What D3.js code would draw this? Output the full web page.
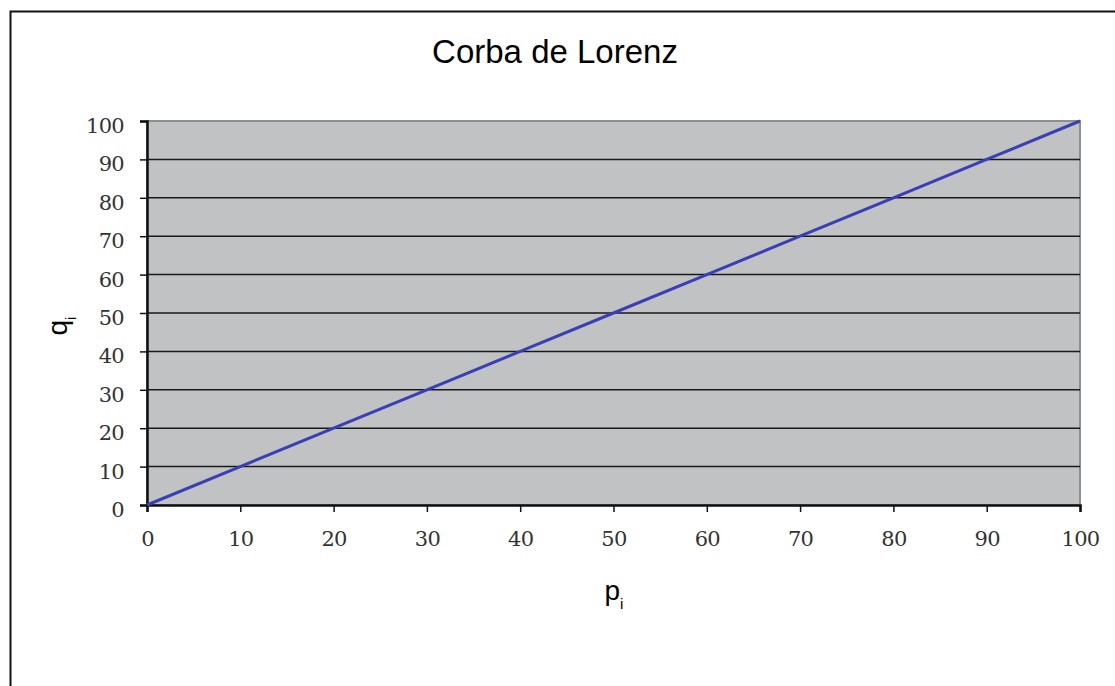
<!DOCTYPE html>
<html>
<head>
<meta charset="utf-8">
<style>
  body { margin: 0; background: #fff; }
  .tick text { font-family: "DejaVu Serif", serif; font-size: 21px; fill: #333; letter-spacing: -0.7px; }
  .title { font-family: "Liberation Sans", Arial, sans-serif; font-size: 33px; fill: #000; }
  .axlabel { font-family: "Liberation Sans", Arial, sans-serif; font-size: 28px; fill: #000; }
</style>
<script src="https://d3js.org/d3.v7.min.js"></script>
</head>
<body>
<svg width="1115" height="686"></svg>
<script>
// data
var pValues = [0, 10, 20, 30, 40, 50, 60, 70, 80, 90, 100];
var qValues = [0, 10, 20, 30, 40, 50, 60, 70, 80, 90, 100];
var xTicks = [0, 10, 20, 30, 40, 50, 60, 70, 80, 90, 100];
var yTicks = [0, 10, 20, 30, 40, 50, 60, 70, 80, 90, 100];

var svg = d3.select("svg");

// outer frame (only top and left visible)
svg.append("path")
  .attr("d", "M10.5,686 V11.5 H1115")
  .attr("fill", "none")
  .attr("stroke", "#111")
  .attr("stroke-width", 2);

var x = d3.scaleLinear().domain([0, 100]).range([147, 1080]);
var y = d3.scaleLinear().domain([0, 100]).range([505, 121]);

// plot background
svg.append("rect")
  .attr("x", x(0)).attr("y", y(100))
  .attr("width", x(100) - x(0)).attr("height", y(0) - y(100))
  .attr("fill", "#c1c2c4")
  .attr("stroke", "#8e8f92")
  .attr("stroke-width", 2);

// gridlines
svg.append("g").selectAll("line")
  .data(yTicks.filter(function (d) { return d > 0 && d < 100; }))
  .enter().append("line")
  .attr("x1", x(0)).attr("x2", x(100))
  .attr("y1", function (d) { return y(d); })
  .attr("y2", function (d) { return y(d); })
  .attr("stroke", "#1a1a1a")
  .attr("stroke-width", 1.5);

// axes
var yAxis = svg.append("g")
  .attr("transform", "translate(" + x(0) + ",0)")
  .call(d3.axisLeft(y).tickValues(yTicks).tickSize(7).tickPadding(16));
yAxis.selectAll(".tick text").attr("dy", "0.55em");

var xAxis = svg.append("g")
  .attr("transform", "translate(0," + y(0) + ")")
  .call(d3.axisBottom(x).tickValues(xTicks).tickSize(7).tickPadding(19));

[yAxis, xAxis].forEach(function (a) {
  a.select(".domain").attr("stroke", "#111").attr("stroke-width", 2.5);
  a.selectAll(".tick line").attr("stroke", "#111").attr("stroke-width", 1.5);
});

// line
var line = d3.line()
  .x(function (d, i) { return x(pValues[i]); })
  .y(function (d) { return y(d); });

svg.append("path")
  .datum(qValues)
  .attr("d", line)
  .attr("fill", "none")
  .attr("stroke", "#3a3fb4")
  .attr("stroke-width", 3);

// title
svg.append("text")
  .attr("class", "title")
  .attr("x", 555).attr("y", 63)
  .attr("text-anchor", "middle")
  .text("Corba de Lorenz");

// x label
var xl = svg.append("text")
  .attr("class", "axlabel")
  .attr("x", 614).attr("y", 600)
  .attr("text-anchor", "middle");
xl.append("tspan").text("p");
xl.append("tspan").attr("font-size", "15px").attr("dy", 9).text("i");

// y label
var yl = svg.append("text")
  .attr("class", "axlabel")
  .attr("transform", "translate(67,326) rotate(-90)")
  .attr("text-anchor", "middle");
yl.append("tspan").text("q");
yl.append("tspan").attr("font-size", "15px").attr("dy", 9).text("i");
</script>
</body>
</html>
